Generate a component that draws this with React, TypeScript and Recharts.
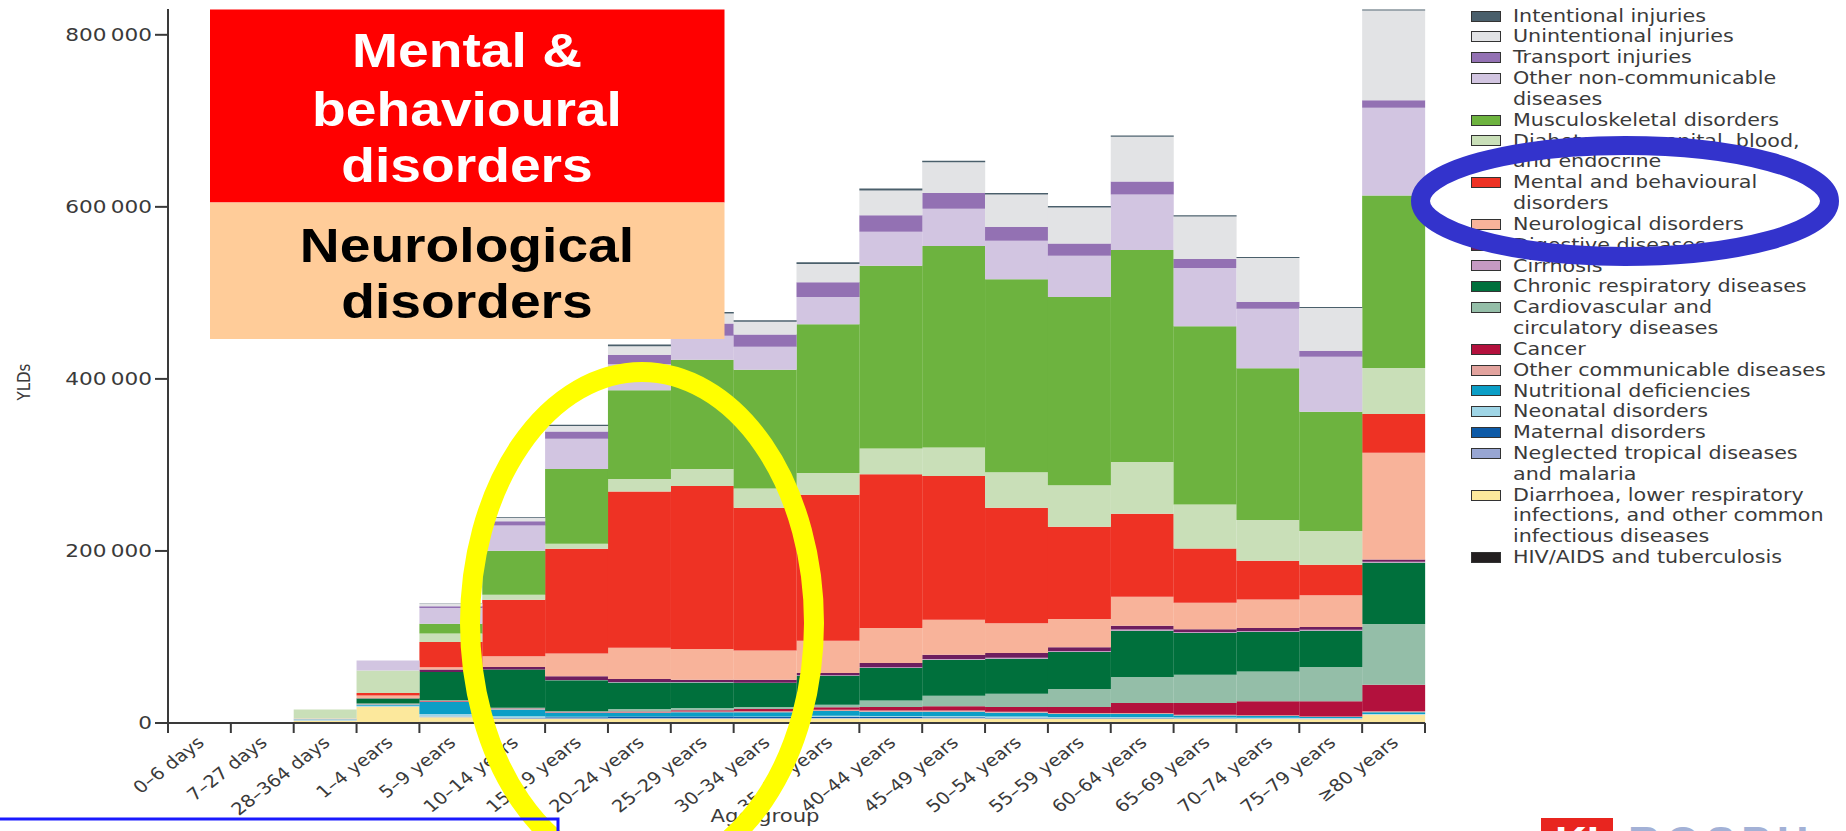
import React from "react";
import { BarChart, Bar, XAxis, YAxis, Legend, Label } from "recharts";

const W = 1846;
const H = 831;
const PLOT_LEFT = 168;
const PLOT_RIGHT = 1425;
const PLOT_BOTTOM = 723;
const FONT = "'DejaVu Sans', sans-serif";
const BOX_FONT = "'Liberation Sans', Arial, sans-serif";
const AXIS = "#3a3a3a";
const TEXT = "#3a3a3a";
const ROW = 20.83;

const AGE_GROUPS = [
  "0–6 days", "7–27 days", "28–364 days", "1–4 years", "5–9 years",
  "10–14 years", "15–19 years", "20–24 years", "25–29 years", "30–34 years",
  "35–39 years", "40–44 years", "45–49 years", "50–54 years", "55–59 years",
  "60–64 years", "65–69 years", "70–74 years", "75–79 years", "≥80 years",
];
const BAND = (PLOT_RIGHT - PLOT_LEFT) / AGE_GROUPS.length;

const Y_TICKS = [0, 200000, 400000, 600000, 800000];

// YLDs per age group, from the bottom of the stack upwards
const hivTb = [0, 0, 0, 1000, 1400, 1400, 1400, 800, 800, 800, 800, 800, 800, 800, 800, 800, 800, 800, 700, 800];
const diarrhoeaLri = [0, 0, 2500, 17800, 5400, 3400, 3400, 4200, 4200, 4200, 4400, 4400, 4400, 4200, 4200, 4200, 4000, 3900, 3800, 8800];
const ntdMalaria = [0, 0, 300, 500, 800, 700, 600, 700, 700, 700, 700, 700, 700, 600, 600, 600, 500, 500, 400, 400];
const maternal = [0, 0, 0, 0, 0, 300, 1200, 1800, 1800, 1600, 1500, 1000, 800, 500, 300, 200, 100, 100, 100, 0];
const neonatal = [0, 0, 1200, 800, 3000, 2100, 600, 200, 200, 400, 1100, 1100, 1300, 1400, 1100, 1200, 1100, 900, 800, 400];
const nutritional = [0, 0, 500, 1500, 13900, 7800, 4600, 3900, 4700, 4700, 5500, 5100, 5000, 4300, 3600, 3400, 2300, 1800, 1200, 2200];
const otherCommunicable = [0, 0, 300, 700, 600, 600, 700, 900, 1000, 1200, 1500, 1500, 1500, 1200, 1000, 1200, 900, 900, 700, 1000];
const cancer = [0, 0, 0, 200, 400, 500, 500, 1000, 1300, 2700, 2700, 4000, 4900, 5600, 7000, 11600, 13500, 16300, 17500, 30800];
const cardiovascular = [0, 0, 0, 300, 1000, 800, 700, 2800, 2700, 2300, 3100, 7700, 12300, 15500, 20900, 30200, 32900, 34800, 39800, 70800];
const chronicRespiratory = [0, 0, 100, 5800, 32900, 44500, 36000, 30900, 29800, 27800, 33700, 37600, 41800, 40600, 42900, 53800, 48400, 45700, 42200, 71100];
const cirrhosis = [0, 0, 0, 0, 0, 200, 300, 400, 400, 500, 500, 800, 1000, 1200, 1300, 1400, 1300, 1300, 1200, 1200];
const digestive = [0, 0, 0, 200, 2700, 2900, 4400, 3500, 2700, 3400, 2500, 5000, 4800, 5400, 4500, 4400, 3300, 3300, 3100, 2500];
const neurological = [0, 0, 200, 3100, 2700, 12400, 26300, 36300, 35600, 34100, 37500, 40600, 40600, 34800, 32700, 33900, 30700, 33300, 36900, 124200];
const mental = [0, 0, 0, 3100, 29500, 65800, 122000, 181800, 189500, 165900, 169900, 178800, 167300, 134200, 107100, 96300, 63100, 45100, 35500, 45000];
const diabetesEtc = [0, 0, 10600, 26000, 9600, 5800, 5800, 14300, 19900, 22300, 25200, 29900, 33200, 41200, 48300, 60200, 51200, 47400, 39400, 53400];
const musculoskeletal = [0, 0, 0, 0, 11600, 51100, 86700, 103300, 127000, 137900, 173000, 212400, 234200, 224200, 219000, 246400, 207100, 176300, 138400, 200700];
const otherNcd = [0, 0, 0, 11600, 18300, 29400, 35300, 30300, 28000, 27000, 31700, 39800, 43100, 45000, 47900, 64500, 67800, 69200, 64000, 102000];
const transport = [0, 0, 0, 0, 1900, 4700, 8500, 10900, 14200, 14200, 17100, 18900, 18500, 16200, 14200, 15200, 10400, 8000, 7100, 8700];
const unintentional = [0, 0, 0, 0, 3400, 4200, 6200, 10000, 11500, 14800, 21300, 28900, 35600, 37500, 41900, 52100, 49300, 50900, 49700, 104300];
const intentional = [0, 0, 0, 0, 400, 800, 1500, 1900, 1800, 1800, 1900, 2400, 1800, 1800, 1700, 1400, 1400, 1300, 1000, 1000];

const SERIES = [
  { key: "hivTb", values: hivTb, color: "#231f20", label: ["HIV/AIDS and tuberculosis"] },
  { key: "diarrhoeaLri", values: diarrhoeaLri, color: "#fce89c", label: ["Diarrhoea, lower respiratory", "infections, and other common", "infectious diseases"] },
  { key: "ntdMalaria", values: ntdMalaria, color: "#98a6d3", label: ["Neglected tropical diseases", "and malaria"] },
  { key: "maternal", values: maternal, color: "#0d5aa7", label: ["Maternal disorders"] },
  { key: "neonatal", values: neonatal, color: "#9fd5e6", label: ["Neonatal disorders"] },
  { key: "nutritional", values: nutritional, color: "#0b9ec6", label: ["Nutritional deficiencies"] },
  { key: "otherCommunicable", values: otherCommunicable, color: "#e2a39e", label: ["Other communicable diseases"] },
  { key: "cancer", values: cancer, color: "#b3113d", label: ["Cancer"] },
  { key: "cardiovascular", values: cardiovascular, color: "#94bea8", label: ["Cardiovascular and", "circulatory diseases"] },
  { key: "chronicRespiratory", values: chronicRespiratory, color: "#00703c", label: ["Chronic respiratory diseases"] },
  { key: "cirrhosis", values: cirrhosis, color: "#c59ac3", label: ["Cirrhosis"] },
  { key: "digestive", values: digestive, color: "#6e1e5f", label: ["Digestive diseases"] },
  { key: "neurological", values: neurological, color: "#f8b39a", label: ["Neurological disorders"] },
  { key: "mental", values: mental, color: "#ee3224", label: ["Mental and behavioural", "disorders"] },
  { key: "diabetesEtc", values: diabetesEtc, color: "#c9dfb8", label: ["Diabetes, urogenital, blood,", "and endocrine"] },
  { key: "musculoskeletal", values: musculoskeletal, color: "#6db33f", label: ["Musculoskeletal disorders"] },
  { key: "otherNcd", values: otherNcd, color: "#d2c5e1", label: ["Other non-communicable", "diseases"] },
  { key: "transport", values: transport, color: "#9371b3", label: ["Transport injuries"] },
  { key: "unintentional", values: unintentional, color: "#e2e3e5", label: ["Unintentional injuries"] },
  { key: "intentional", values: intentional, color: "#4a5f6b", label: ["Intentional injuries"] },
];

const data = AGE_GROUPS.map((age, i) => {
  const row: Record<string, string | number> = { age };
  SERIES.forEach((s) => {
    row[s.key] = s.values[i];
  });
  return row;
});

const formatYld = (v: number) =>
  v === 0 ? "0" : `${Math.floor(v / 1000)}\u2009${String(v % 1000).padStart(3, "0")}`;

function ValueTick({ x, y, payload }: any) {
  return (
    <text
      transform={`translate(${x},${y}) scale(1.2,1)`}
      textAnchor="end"
      dy="0.36em"
      fontSize={18}
      fontFamily={FONT}
      fill={TEXT}
    >
      {formatYld(payload.value)}
    </text>
  );
}

// category ticks sit on the band edges, labels are slanted and end at the band centre
function AgeTick({ x, payload, index }: any) {
  const left = x - BAND / 2;
  const right = x + BAND / 2;
  return (
    <g>
      <line x1={left} x2={left} y1={PLOT_BOTTOM} y2={PLOT_BOTTOM + 10} stroke={AXIS} strokeWidth={2} />
      {index === AGE_GROUPS.length - 1 && (
        <line x1={right} x2={right} y1={PLOT_BOTTOM} y2={PLOT_BOTTOM + 10} stroke={AXIS} strokeWidth={2} />
      )}
      <text
        transform={`translate(${x + 6},${PLOT_BOTTOM + 21}) scale(1.15,1) rotate(-42)`}
        textAnchor="end"
        fontSize={17}
        fontFamily={FONT}
        fill={TEXT}
      >
        {payload.value}
      </text>
    </g>
  );
}

const renderLegend = () => (
  <div style={{ fontFamily: FONT, fontSize: 17.5, color: TEXT, lineHeight: `${ROW}px` }}>
    {[...SERIES].reverse().map((s) => (
      <div key={s.key} style={{ display: "flex", alignItems: "flex-start" }}>
        <div
          style={{
            width: 30,
            height: 11,
            boxSizing: "border-box",
            border: "1.5px solid #333",
            background: s.color,
            marginTop: (ROW - 11) / 2,
            flexShrink: 0,
          }}
        />
        <div style={{ marginLeft: 12, transform: "scaleX(1.18)", transformOrigin: "left top", whiteSpace: "nowrap" }}>
          {s.label.map((line) => (
            <div key={line}>{line}</div>
          ))}
        </div>
      </div>
    ))}
  </div>
);

export default function App() {
  return (
    <div style={{ position: "absolute", left: 0, top: 0, width: W, height: H, overflow: "hidden", background: "#fff" }}>
      <BarChart
        width={W}
        height={H}
        data={data}
        margin={{ top: 9, right: W - PLOT_RIGHT, bottom: 0, left: 0 }}
        barCategoryGap={0}
        barGap={0}
      >
        <XAxis
          dataKey="age"
          interval={0}
          height={H - PLOT_BOTTOM}
          tickLine={false}
          axisLine={{ stroke: AXIS, strokeWidth: 2 }}
          tick={<AgeTick />}
        >
          <Label
            content={() => (
              <text transform="translate(765,822) scale(1.21,1)" textAnchor="middle" fontSize={17.5} fontFamily={FONT} fill={TEXT}>
                Age group
              </text>
            )}
          />
        </XAxis>
        <YAxis
          width={PLOT_LEFT}
          domain={[0, 830000]}
          ticks={Y_TICKS}
          interval={0}
          allowDataOverflow
          tickSize={13}
          tickMargin={3}
          axisLine={{ stroke: AXIS, strokeWidth: 2 }}
          tickLine={{ stroke: AXIS, strokeWidth: 2 }}
          tick={<ValueTick />}
        >
          <Label
            content={() => (
              <text transform="translate(30,382) scale(1.2,1) rotate(-90)" textAnchor="middle" fontSize={15} fontFamily={FONT} fill={TEXT}>
                YLDs
              </text>
            )}
          />
        </YAxis>
        {SERIES.map((s) => (
          <Bar
            key={s.key}
            dataKey={s.key}
            name={s.label.join(" ")}
            stackId="yld"
            fill={s.color}
            isAnimationActive={false}
          />
        ))}
        <Legend
          layout="vertical"
          align="center"
          verticalAlign="middle"
          content={renderLegend}
          wrapperStyle={{ left: 1471, top: 5.6, width: 375 }}
        />
      </BarChart>

      {/* slide annotations drawn over the chart */}
      <svg width={W} height={H} style={{ position: "absolute", left: 0, top: 0, pointerEvents: "none" }}>
        <rect x={210} y={9.5} width={514.5} height={193} fill="#ff0000" />
        <rect x={210} y={202.5} width={514.5} height={136.5} fill="#ffcc99" />
        <g fontFamily={BOX_FONT} fontWeight="bold" fontSize={48} textAnchor="middle">
          <text transform="translate(467,67) scale(1.15,1)" fill="#fff">Mental &amp;</text>
          <text transform="translate(467,126) scale(1.15,1)" fill="#fff">behavioural</text>
          <text transform="translate(467,182) scale(1.15,1)" fill="#fff">disorders</text>
          <text transform="translate(467,262) scale(1.15,1)" fill="#000">Neurological</text>
          <text transform="translate(467,318) scale(1.15,1)" fill="#000">disorders</text>
        </g>
        <ellipse cx={642} cy={623} rx={172} ry={251} fill="none" stroke="#ffff00" strokeWidth={20} />
        <ellipse cx={1625} cy={201} rx={204.5} ry={55.5} fill="none" stroke="#3333cc" strokeWidth={19} />
        <polyline points="-5,819 558,819 558,840" fill="none" stroke="#1a1aff" strokeWidth={3} />
        <rect x={1541} y={818} width={72} height={20} fill="#e8251f" />
        <g fontFamily={BOX_FONT} fontWeight="bold" fontSize={44}>
          <text x={1577} y={858} textAnchor="middle" fill="#fff">KI</text>
          <text x={1628} y={858} fill="#a3b1d6" letterSpacing={6}>ROSPH</text>
        </g>
      </svg>
    </div>
  );
}
